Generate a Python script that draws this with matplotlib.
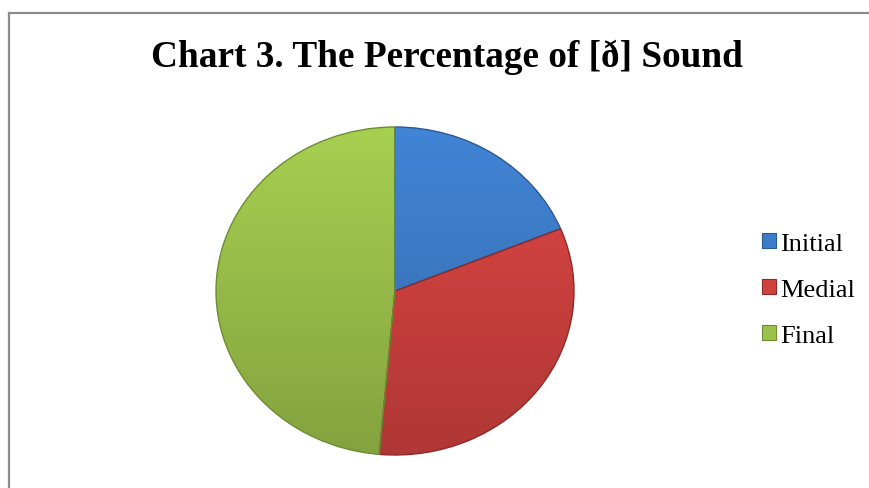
import numpy as np
import matplotlib.pyplot as plt
from matplotlib.colors import to_rgb
from matplotlib.patches import Rectangle

labels = ["Initial", "Medial", "Final"]
shares = [18.8, 32.6, 48.6]
colors = ["#3d7cc8", "#d0423f", "#9cc24b"]
edges = ["#2a5a94", "#8f2a28", "#6e8c33"]

plt.rcParams["font.family"] = ["Liberation Serif", "DejaVu Serif"]

fig = plt.figure(figsize=(8.69, 4.89), dpi=100)

# outer frame of the chart area (only top and left edges visible)
frame = fig.add_axes([0, 0, 1, 1])
frame.set_xlim(0, 869)
frame.set_ylim(489, 0)
frame.axis("off")
frame.plot([8.5, 869], [13.5, 13.5], color="#8c8c8c", lw=1.6)
frame.plot([8.5, 8.5], [13.5, 489], color="#8c8c8c", lw=1.6)

fig.text(447 / 869, 1 - 57 / 489, "Chart 3. The Percentage of [ð] Sound",
         ha="center", va="center", fontsize=26.8, fontweight="bold")

# pie box: x 216..574, y 128..456 in pixels
ax = fig.add_axes([216 / 869, 1 - 456 / 489, 358 / 869, 328 / 489])
wedges, _ = ax.pie(shares, colors=colors, startangle=90, counterclock=False,
                   wedgeprops=dict(linewidth=1.0))
ax.set_aspect("auto")
ax.set_xlim(-1.0, 1.0)
ax.set_ylim(-1.0, 1.0)

# vertical shading: lighter at the top of the pie, darker at the bottom
shade = np.linspace(0.84, 1.07, 256)[:, None]
for w, c, ec in zip(wedges, colors, edges):
    rgb = np.clip(np.array(to_rgb(c))[None, None, :] * shade[:, :, None], 0, 1)
    img = ax.imshow(np.repeat(rgb, 2, axis=1), extent=(-1, 1, -1, 1),
                    origin="lower", aspect="auto", zorder=w.get_zorder() + 0.1)
    img.set_clip_path(w)
    w.set_edgecolor(ec)
    w.set_facecolor("none")
    w.set_zorder(w.get_zorder() + 0.2)

handles = [Rectangle((0, 0), 1, 1, facecolor=c, edgecolor=e, lw=0.8)
           for c, e in zip(colors, edges)]
fig.legend(handles, labels, loc="center left", bbox_to_anchor=(762 / 869, 1 - 291 / 489),
           frameon=False, fontsize=19, handlelength=0.53, handleheight=0.5,
           handletextpad=0.15, labelspacing=0.92, borderpad=0, borderaxespad=0)

fig.savefig("out.png", dpi=100)
